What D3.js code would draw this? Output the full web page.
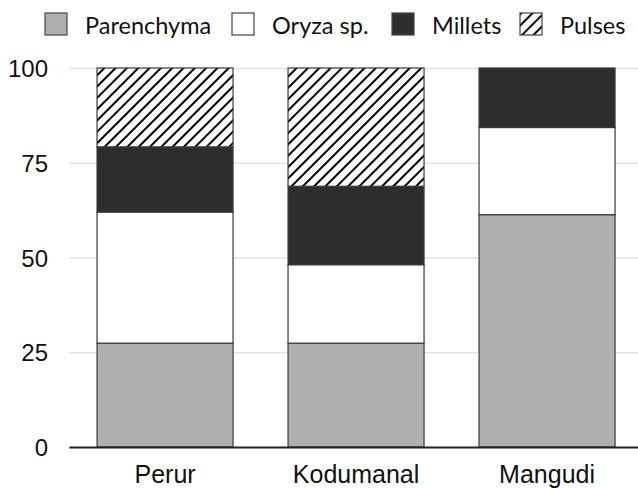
<!DOCTYPE html>
<html>
<head>
<meta charset="utf-8">
<script src="https://cdn.jsdelivr.net/npm/d3@7"></script>
<style>
  body { margin: 0; background: #fff; }
  svg { display: block; font-family: Lato, "Open Sans", sans-serif; }
  .yAxis .domain { display: none; }
  .yAxis line { stroke: #e3e3e3; stroke-width: 1.5; }
  .yAxis text { font-size: 24px; fill: #111; }
  .xAxis text { font-size: 25px; fill: #111; }
  .xAxis line { display: none; }
  .xAxis .domain { stroke: #222; stroke-width: 2; }
</style>
</head>
<body>
<svg id="svg" width="638" height="488"></svg>
<script>
const sites = ['Perur', 'Kodumanal', 'Mangudi'];
const series = ['Parenchyma', 'Oryza sp.', 'Millets', 'Pulses'];
const parenchyma = [27.4, 27.4, 61.3];
const oryza = [34.6, 20.7, 23.0];
const millets = [17.2, 20.7, 15.7];
const pulses = [20.8, 31.2, 0];
const yTicks = [0, 25, 50, 75, 100];

const fills = ['#b0b0b0', '#ffffff', '#2d2d2d', 'url(#hatch)'];

const svg = d3.select('#svg');
const padding = {top: 68, right: 0, bottom: 41, left: 69};
const chartArea = {
    width: 638 - padding.left - padding.right,
    height: 488 - padding.top - padding.bottom
};

// hatch pattern for pulses
const defs = svg.append('defs');
const pat = defs.append('pattern')
    .attr('id', 'hatch')
    .attr('patternUnits', 'userSpaceOnUse')
    .attr('width', 8).attr('height', 8)
    .attr('patternTransform', 'rotate(45)');
pat.append('rect').attr('width', 8).attr('height', 8).attr('fill', '#fff');
pat.append('line')
    .attr('x1', 0).attr('y1', 0).attr('x2', 0).attr('y2', 8)
    .attr('stroke', '#000').attr('stroke-width', 4);

const table = sites.map((s, i) => ({
    site: s,
    'Parenchyma': parenchyma[i],
    'Oryza sp.': oryza[i],
    'Millets': millets[i],
    'Pulses': pulses[i]
}));
const stacked = d3.stack().keys(series)(table);

const yScale = d3.scaleLinear().domain([0, 100]).range([chartArea.height, 0]);
const xScale = d3.scaleBand()
    .domain(sites)
    .range([0, chartArea.width])
    .paddingInner(0.288)
    .paddingOuter(0.1335)
    .align(0.55);

const g = svg.append('g')
    .attr('transform', 'translate(' + padding.left + ',' + padding.top + ')');

// gridlines + y labels
g.append('g')
    .classed('yAxis', true)
    .call(d3.axisLeft(yScale).tickValues(yTicks).tickSize(-chartArea.width).tickPadding(21))
    .call(a => a.selectAll('text').attr('dy', '0.36em'));

// bars
g.selectAll('.layer').data(stacked)
    .enter().append('g')
    .attr('class', 'layer')
    .attr('fill', (d, i) => fills[i])
    .selectAll('rect').data(d => d.filter(p => p[1] - p[0] > 0))
    .enter().append('rect')
    .attr('x', d => xScale(d.data.site))
    .attr('width', xScale.bandwidth())
    .attr('y', d => yScale(d[1]))
    .attr('height', d => yScale(d[0]) - yScale(d[1]))
    .attr('stroke', '#3a3a3a')
    .attr('stroke-width', 1.2);

// x axis
g.append('g')
    .classed('xAxis', true)
    .attr('transform', 'translate(0,' + chartArea.height + ')')
    .call(d3.axisBottom(xScale).tickSizeOuter(0).tickSize(0).tickPadding(18));

// legend
const legendX = [45, 232, 392, 520];
const leg = svg.append('g').selectAll('g').data(series)
    .enter().append('g')
    .attr('transform', (d, i) => 'translate(' + legendX[i] + ',13)');
leg.append('rect')
    .attr('width', 22).attr('height', 22)
    .attr('fill', (d, i) => fills[i])
    .attr('stroke', '#444').attr('stroke-width', 1.2);
leg.append('text')
    .attr('x', 40).attr('y', 21)
    .style('font-size', '23.5px').attr('fill', '#111')
    .text(d => d);
</script>
</body>
</html>
